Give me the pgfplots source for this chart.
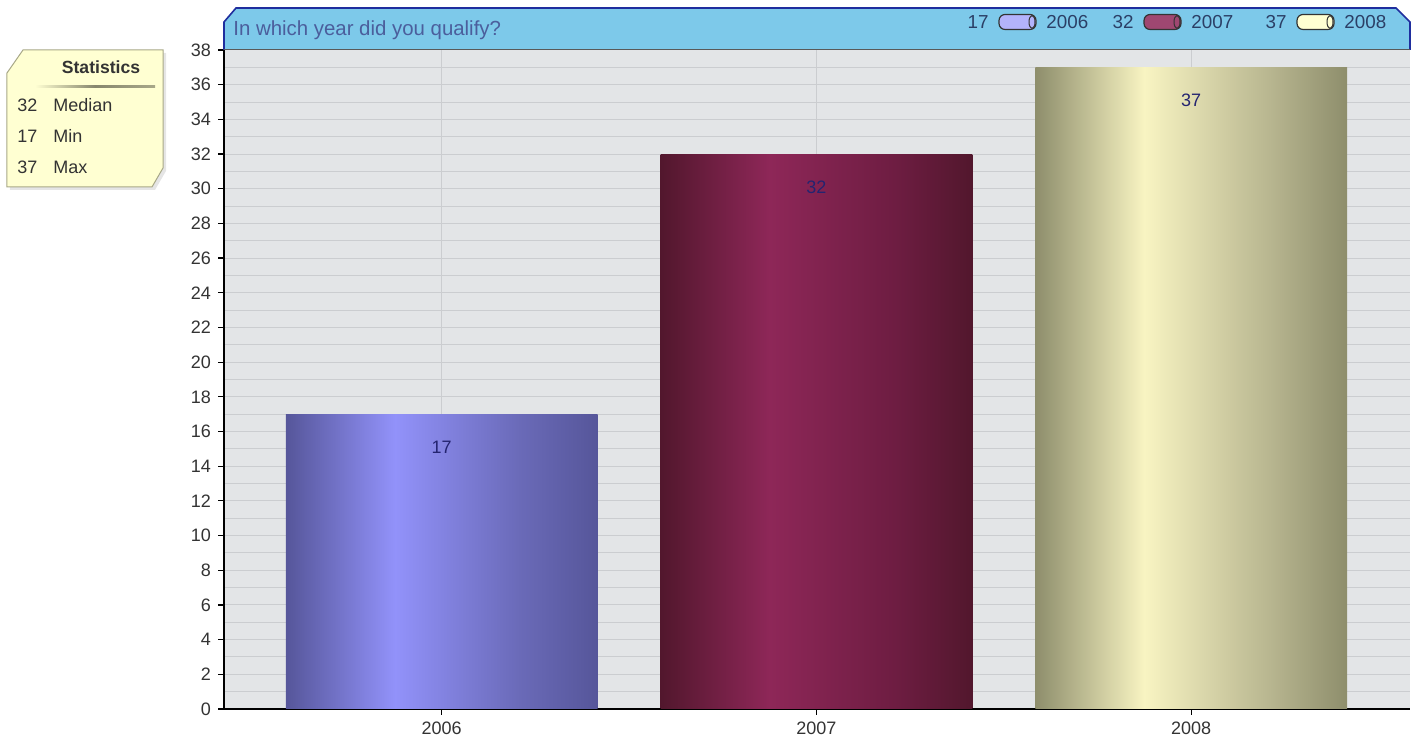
\documentclass[border=0pt]{standalone}
\usepackage{pgfplots}
\pgfplotsset{compat=1.18}
\usepackage{fontspec}
\setmainfont{Liberation Sans}
\definecolor{plotbg}{HTML}{E3E5E7}
\definecolor{gridc}{HTML}{CBCDD0}
\definecolor{titlefill}{HTML}{7DC9EA}
\definecolor{titleborder}{HTML}{1F2E9E}
\definecolor{titletext}{HTML}{4B5E9C}
\definecolor{legtext}{HTML}{2B3F66}
\definecolor{statfill}{HTML}{FFFFD2}
\definecolor{statborder}{HTML}{A8A888}
\definecolor{txt}{HTML}{333333}
\definecolor{bA}{HTML}{56569A}\definecolor{bB}{HTML}{9292FA}\definecolor{bC}{HTML}{6A6AB8}
\definecolor{mA}{HTML}{52172D}\definecolor{mB}{HTML}{8E2758}\definecolor{mC}{HTML}{6E1D42}
\definecolor{yA}{HTML}{8E8E6C}\definecolor{yB}{HTML}{F8F4C2}\definecolor{yC}{HTML}{B8B690}
\pgfdeclarehorizontalshading{bluebar}{100bp}{color(0bp)=(bA); color(25bp)=(bA); color(42.5bp)=(bB); color(62.5bp)=(bC); color(75bp)=(bA); color(100bp)=(bA)}
\pgfdeclarehorizontalshading{maroonbar}{100bp}{color(0bp)=(mA); color(25bp)=(mA); color(42.5bp)=(mB); color(62.5bp)=(mC); color(75bp)=(mA); color(100bp)=(mA)}
\pgfdeclarehorizontalshading{yellowbar}{100bp}{color(0bp)=(yA); color(25bp)=(yA); color(42.5bp)=(yB); color(62.5bp)=(yC); color(75bp)=(yA); color(100bp)=(yA)}
\begin{document}
\begin{tikzpicture}
\useasboundingbox (-112pt,-19pt) rectangle (596.5pt,354.5pt);
\begin{axis}[
  at={(0,0)}, anchor=south west,
  scale only axis, width=593pt, height=329.5pt,
  xmin=-0.581, xmax=2.584, ymin=0, ymax=38,
  axis x line*=bottom, axis y line*=left,
  axis background/.style={fill=plotbg},
  xtick={0,1,2}, xticklabels={2006,2007,2008},
  ytick={0,2,...,38}, minor y tick num=1, minor tick length=0pt,
  major tick length=3pt, tick align=outside,
  tick style={black, line width=0.6pt},
  axis line style={black, line width=0.6pt},
  xmajorgrids, ymajorgrids, yminorgrids,
  major grid style={gridc, line width=0.5pt},
  minor grid style={gridc, line width=0.5pt},
  ticklabel style={font=\fontsize{9}{10}\selectfont, text=txt},
  /pgf/number format/assume math mode=true,
  ybar, bar width=0.832, bar shift=0pt,
  nodes near coords,
  every node near coord/.append style={anchor=center, yshift=-16.5pt, font=\fontsize{9}{10}\selectfont, text=txt!70!blue},
  clip=false,
]
\addplot[draw=none, shading=bluebar] coordinates {(0,17)};
\addplot[draw=none, shading=maroonbar] coordinates {(1,32)};
\addplot[draw=none, shading=yellowbar] coordinates {(2,37)};
\end{axis}
\begin{scope}[shift={(-112pt,354.5pt)}, x=0.5pt, y=-0.5pt]
  % title bar
  \fill[titlefill] (224,50) -- (224,22) -- (236,8) -- (1396,8) -- (1410,22) -- (1410,50) -- cycle;
  \draw[titleborder, line width=0.8pt] (224,50) -- (224,22) -- (236,8) -- (1396,8) -- (1410,22) -- (1410,50);
  \draw[gray!70!black, line width=0.5pt] (224,50) -- (1410,50);
  \node[anchor=west, text=titletext, font=\fontsize{10.2}{12}\selectfont, inner sep=0pt] at (233,30) {In which year did you qualify?};
  % legend
  \foreach \num/\yr/\xs/\col in {17/2006/968/bB!70!white, 32/2007/1113/mB!85!white, 37/2008/1266/statfill}{
    \node[anchor=east, text=legtext, font=\fontsize{9.4}{11}\selectfont, inner sep=0pt] at (\xs+21,22) {\num};
    \draw[black!80, line width=0.6pt, fill=\col, rounded corners=3pt] (\xs+31,14.5) rectangle (\xs+68,29.5);
    \draw[black!80, line width=0.5pt, fill=\col] (\xs+64,22) ellipse [x radius=3, y radius=6.5];
    \node[anchor=west, text=legtext, font=\fontsize{9.4}{11}\selectfont, inner sep=0pt] at (\xs+78,22) {\yr};
  }
  % statistics box
  \fill[black!10] (10,76) -- (26,53) -- (166,53) -- (166,171) -- (155,190) -- (10,190) -- cycle;
  \filldraw[fill=statfill, draw=statborder, line width=0.5pt] (7,73) -- (23,50) -- (163,50) -- (163,168) -- (152,187) -- (7,187) -- cycle;
  \node[font=\fontsize{8.8}{10}\selectfont\bfseries, text=txt, inner sep=0pt] at (101,67) {Statistics};
  \shade[left color=statfill, right color=statborder, middle color=statborder!80!black] (35,86) rectangle (155,88);
  \foreach \v/\l/\yy in {32/Median/105, 17/Min/136, 37/Max/167}{
    \node[anchor=west, font=\fontsize{9}{10}\selectfont, text=txt, inner sep=0pt] at (17,\yy) {\v};
    \node[anchor=west, font=\fontsize{9}{10}\selectfont, text=txt, inner sep=0pt] at (53,\yy) {\l};
  }
\end{scope}
\end{tikzpicture}
\end{document}
